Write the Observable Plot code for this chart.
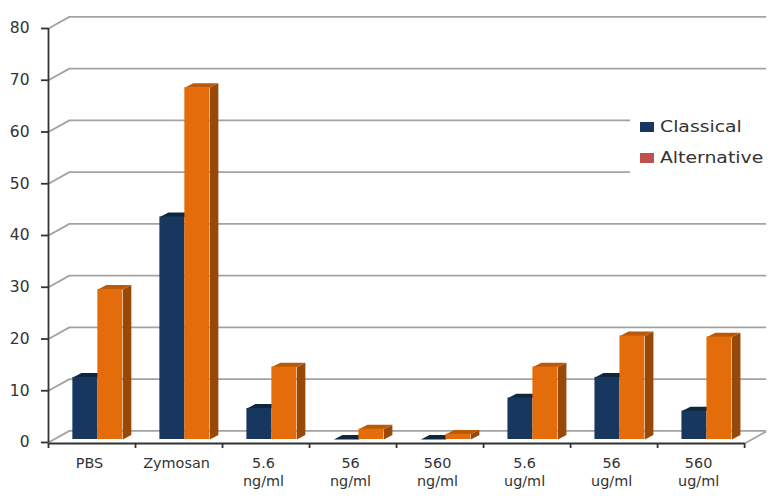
<!DOCTYPE html>
<html><head><meta charset="utf-8">
<script src="https://cdn.jsdelivr.net/npm/d3@7"></script>
<script src="https://cdn.jsdelivr.net/npm/@observablehq/plot@0.6"></script>
<style>
html,body{margin:0;padding:0;background:#fff;}
#wrap{position:relative;width:782px;height:498px;overflow:hidden;font-family:"DejaVu Sans",sans-serif;color:#333;}
#legend{position:absolute;left:630px;top:100px;width:152px;height:75px;background:#fff;}
.item{position:absolute;left:10px;font-size:16.5px;line-height:20px;white-space:nowrap;}
.sw{position:absolute;left:0;top:5px;width:14px;height:10px;}
.item span.t{display:inline-block;margin-left:20px;transform:scaleX(1.14);transform-origin:left center;}
svg{display:block;}
</style></head><body>
<div id="wrap"></div>
<script>
const categories = ["PBS","Zymosan","5.6\nng/ml","56\nng/ml","560\nng/ml","5.6\nug/ml","56\nug/ml","560\nug/ml"];
const classical = [12,43,6,0,0,8,12,5.5];
const alternative = [29,68,14,2,1,14,20,19.8];
const yTicks = [0,10,20,30,40,50,60,70,80];
const colors = {navy:"#17375e",navyTop:"#10263f",navySide:"#0f2540",orange:"#e46c0a",orangeTop:"#b85a08",orangeSide:"#984807",legendRed:"#c0504d",grid:"#a3a3a3",axis:"#333333"};

// depth of the fake 3D, in data units of the x and y scales
const wallX = 0.24, wallY = 2.25;
const barX = 0.098, barY = 0.85;
const gap = 0.28, barW = 0.287;

const bars = (values, off) => values.map((v,i)=>({i, v, x1:i+gap+off*barW, x2:i+gap+(off+1)*barW}));
const poly = (rows, fn) => rows.flatMap((r,k)=>fn(r).map(([x,y])=>({id:k,x,y})));
const topFace = r => [[r.x1,r.v],[r.x1+barX,r.v+barY],[r.x2+barX,r.v+barY],[r.x2,r.v]];
const sideFace = r => [[r.x2,0],[r.x2+barX,barY],[r.x2+barX,r.v+barY],[r.x2,r.v]];

const blue = bars(classical,0), orange = bars(alternative,1);
const grid = yTicks.flatMap(t=>[
  {id:t,x:0,y:t},{id:t,x:wallX,y:t+wallY},{id:t,x:8+wallX,y:t+wallY}
]);
const floorEdge = [{x:8,y:0},{x:8+wallX,y:wallY}];

const polyMark = (data, fill) => Plot.line(data,{x:"x",y:"y",z:"id",fill,stroke:null,dy:-3});
const front = (data, fill) => Plot.rectY(data,{x1:"x1",x2:"x2",y1:0,y2:"v",fill,dy:-3,inset:0});

const chart = Plot.plot({
  width:782, height:498,
  marginLeft:48, marginRight:17, marginTop:28, marginBottom:56,
  style:{background:"#fff",fontFamily:"'DejaVu Sans',sans-serif",overflow:"visible"},
  x:{domain:[0,8+wallX]},
  y:{domain:[0,80]},
  marks:[
    Plot.line(grid,{x:"x",y:"y",z:"id",stroke:colors.grid,strokeWidth:1.8}),
    Plot.line(floorEdge,{x:"x",y:"y",stroke:colors.grid,strokeWidth:1.8,dy:1}),
    polyMark(poly(blue,sideFace),colors.navySide),
    polyMark(poly(blue,topFace),colors.navyTop),
    front(blue,colors.navy),
    polyMark(poly(orange,sideFace),colors.orangeSide),
    polyMark(poly(orange,topFace),colors.orangeTop),
    front(orange,colors.orange),
    Plot.ruleY([0],{x1:0,x2:8,stroke:colors.axis,strokeWidth:1.8,dy:1}),
    Plot.ruleX([0],{y1:0,y2:80,stroke:colors.axis,strokeWidth:1.8}),
    Plot.axisY(yTicks,{tickSize:7,tickPadding:12,fontSize:15.5,stroke:colors.axis,strokeWidth:1.8,fill:"#333",label:null}),
    Plot.axisX(d3.range(0,9),{tickSize:5,tickFormat:()=>"",stroke:colors.axis,strokeWidth:1.8,dy:1,label:null}),
    Plot.axisX(d3.range(0,8).map(i=>i+0.5),{tickSize:0,tickPadding:12,fontSize:14.4,lineHeight:1.27,fill:"#333",label:null,dx:-2.5,
      tickFormat:d=>categories[d-0.5]})
  ]
});
const wrap = document.getElementById("wrap");
wrap.appendChild(chart);
const legend = document.createElement("div");
legend.id = "legend";
[["Classical",colors.navy,17],["Alternative",colors.legendRed,48]].forEach(([t,c,top])=>{
  const it = document.createElement("div");
  it.className="item"; it.style.top=top+"px";
  const sw=document.createElement("div"); sw.className="sw"; sw.style.background=c;
  const s=document.createElement("span"); s.className="t"; s.textContent=t;
  it.append(sw,s); legend.appendChild(it);
});
wrap.appendChild(legend);
</script>
</body></html>
